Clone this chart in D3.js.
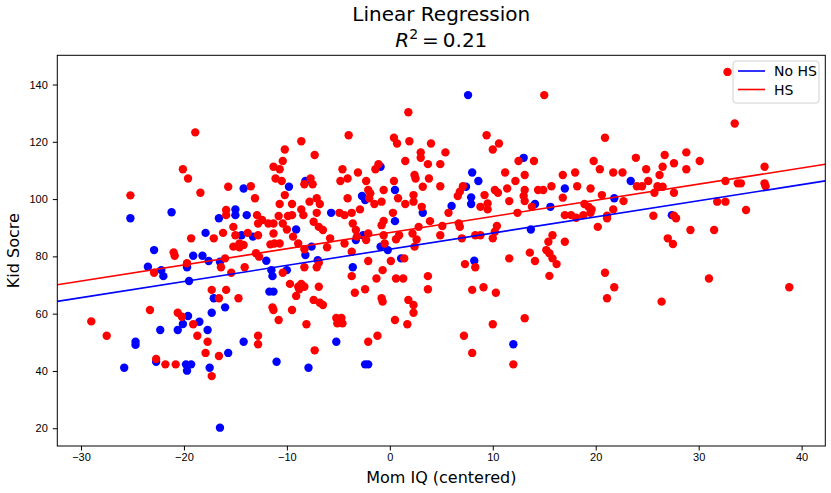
<!DOCTYPE html>
<html lang="en">
<head>
    <meta charset="UTF-8">
    <title>Linear Regression</title>
    <script src="https://d3js.org/d3.v7.min.js"></script>
    <style>
        body { margin: 0; background: #fff; }
        svg { display: block; font-family: "DejaVu Sans", sans-serif; }
        .axis path, .axis line { stroke: #000; stroke-width: 1px; }
        .axis text { font-size: 11px; fill: #000; }
    </style>
</head>
<body>
<svg width="831" height="493"></svg>
<script>
    // Mom IQ (centered) / kid score, mothers without high school
    const momIqNoHs = [-25.2, -21.2, -14.2, -16.6, -15.0, -15.0, -13.9, -17.9, -14.4, -22.9,
        -19.1, -18.2, -17.6, -16.5, -19.7, -23.5, -22.2, -22.0, -19.5, -17.1,
        -16.0, -17.3, -19.6, -22.3, -20.6, -20.1, -18.5, -17.7, -24.7, -24.7,
        -25.8, -22.7, -19.8, -19.3, -19.7, -17.5, -15.7, -14.2, -16.5, -9.8,
        -8.2, -0.9, 0.5, 7.6, 13.0, 8.0, 8.6, 23.4, 7.4, 17.0,
        7.9, 7.9, 6.0, 21.8, 14.1, 15.6, 13.7, 8.2, 27.4, 12.0,
        -11.0, -7.9, -5.2, -2.4, -2.1, -5.7, -2.7, -2.4, 0.5, 3.2,
        -13.3, -9.1, -7.6, -8.2, -7.0, -3.3, -2.6, -0.9, -0.2, -12.0,
        -11.5, -11.4, -10.0, -3.6, 1.1, -11.7, -11.3];
    const kidScoreNoHs = [93.3, 95.4, 103.7, 93.3, 96.4, 94.4, 94.4, 88.2, 87.4, 82.2,
        80.2, 80.2, 78.4, 78.1, 76.2, 76.4, 75.2, 73.1, 71.4, 65.4,
        62.2, 60.3, 59.2, 54.3, 54.3, 56.4, 57.2, 54.3, 50.2, 49.1,
        41.1, 43.2, 42.3, 42.3, 40.1, 41.1, 46.3, 50.2, 20.2, 104.3,
        106.3, 111.3, 103.2, 136.3, 114.4, 109.3, 106.3, 106.3, 104.3, 103.7,
        100.6, 98.3, 97.6, 100.3, 98.3, 97.3, 89.4, 78.5, 94.4, 49.3,
        43.2, 41.1, 50.2, 42.3, 42.3, 95.2, 101.1, 99.7, 92.3, 95.2,
        86.9, 89.4, 83.4, 80.5, 78.7, 85.7, 87.4, 83.4, 82.2, 78.5,
        75.2, 73.1, 75.2, 76.2, 79.3, 67.7, 67.7];

    // mothers with high school
    const momIqHs = [-29.0, -27.5, -25.2, -18.4, -15.9, -15.9, -15.2, -16.2, -15.0, -13.8,
        -19.3, -17.1, -14.6, -15.2, -14.6, -14.2, -21.0, -20.9, -16.0, -19.7,
        -16.4, -22.9, -14.1, -15.4, -17.3, -15.9, -16.6, -14.7, -23.3, -20.6,
        -20.2, -22.7, -21.8, -20.8, -19.1, -18.7, -17.7, -17.9, -17.3, -16.6,
        -18.9, -20.1, -19.6, -15.7, -13.5,
        1.8, -4.0, -8.6, -10.2, -7.3, -10.4, -11.3, -10.7, -11.1, -10.5,
        -7.7, -7.5, -8.3, -4.6, -4.8, -4.1, -3.1, -2.3, -1.1, -1.4,
        0.4, 0.4, 0.7, 1.9, 4.0, 1.5, 3.0, 3.0, 3.7, 4.9,
        5.4, 2.4, 2.5, 3.8, 3.2, 4.9, -2.1, -0.6,
        15.0, 9.4, 10.6, 10.0, 20.9, 12.5, 14.0, 23.9, 19.8, 20.4,
        21.7, 22.6, 11.2, 13.1, 12.2, 16.8, 18.0, 24.0, 7.1, 18.2,
        15.7, 19.5, 10.2, 11.4, 13.1, 14.4, 14.9,
        32.8, 33.5, 26.7, 28.8, 27.6, 30.1, 26.5, 28.8, 24.9, 26.2,
        25.1, 24.5, 26.0, 26.5, 36.4, 32.6, 33.8, 34.1, 36.4, 36.5,
        25.7, 27.6, 31.8, 32.6, 34.6, 25.6, 27.6, 27.8, 29.2, 31.5,
        27.0, 27.5, 31.0, 38.8, 26.4,
        6.8, 6.6, 5.7, 9.2, 10.5, 9.5, 8.8, 9.5, 11.6, 13.1,
        13.0, 20.6, 22.7, 13.8, 16.8, 18.9, 19.3, 19.6, 18.8, 19.5,
        17.0, 17.6, 18.1, 21.7, 21.1, 21.1, 20.2, 12.4, 6.7, 6.8,
        7.0, 8.3, 8.8, 10.0, 10.2, 10.4, 15.8, 15.4, 17.0, 15.2,
        15.5, 13.6, 14.1, 15.8, 16.2, 11.6, 7.3, 8.3, 15.5, 20.9,
        21.8, 21.1, 8.0, 9.1, 10.3, 13.1,
        10.0, 7.2, 8.0, 12.0,
        -12.8, -12.8, -10.8, -8.1, -5.2, -4.7, -5.1, -4.6, -7.3, -2.1,
        -1.2, 0.5, 1.7,
        -10.2, -13.1, -10.7, -9.5, -7.8, -7.1, -6.8, -8.6, -8.4, -7.1,
        -4.9, -4.4, -3.7, -4.1, -1.9, -2.0, -1.5, -0.8, -2.9, 0.8,
        1.5, 2.3, 2.3, 3.1, 0.3, -0.6, -0.8, 3.9, 5.1, 4.9,
        2.8, 2.2, 2.6, -12.9, -12.4, -11.8, -11.3, -12.8, -10.8, -9.9,
        -9.5, -10.4, -10.0, -12.8, -11.3, -11.2, -11.6, -10.7, -9.4, -8.9,
        -7.4, -6.9, -6.5, -8.3, -6.1, -5.8, -3.6, -3.3, -3.2, -4.4,
        -3.7, -2.1, -2.3, -0.6, -0.5, 0.6, 0.9, 2.4, -13.0, -12.7,
        -10.4, -8.3, -7.1, -6.9, -3.7, -2.1, -0.7, -1.3, 0.1, 1.4,
        3.7, 0.6, 1.3, -9.7, -8.9, -8.6, -8.8, -8.3, -6.9, -9.1,
        -2.4, -3.4, 3.7, -0.8, -0.7, -7.4, -6.8, -6.5, 1.8, 2.3,
        -11.4, -11.3, -9.5, 2.3];
    const kidScoreHs = [57.3, 52.3, 101.3, 102.2, 96.2, 94.4, 90.3, 88.2, 87.4, 88.2,
        86.3, 86.3, 84.5, 83.4, 83.2, 84.0, 81.4, 80.2, 79.3, 77.6,
        76.2, 74.3, 76.2, 74.3, 68.3, 68.3, 65.4, 65.4, 61.3, 60.3,
        58.9, 44.2, 42.3, 42.3, 56.3, 52.3, 50.2, 46.3, 38.2, 45.2,
        123.3, 110.4, 107.2, 104.3, 104.5,
        130.3, 122.3, 120.2, 117.3, 115.4, 113.3, 111.3, 110.4, 107.2, 106.3,
        107.2, 105.2, 105.2, 110.4, 106.3, 107.2, 109.3, 106.3, 112.2, 110.4,
        106.3, 121.4, 119.4, 120.2, 119.4, 113.3, 116.3, 114.4, 112.2, 112.2,
        116.3, 108.4, 107.2, 107.2, 104.3, 104.5, 103.2, 103.2,
        136.3, 122.3, 119.4, 117.3, 121.4, 113.3, 113.3, 114.4, 113.3, 110.4,
        109.3, 109.3, 109.3, 108.4, 106.3, 108.4, 109.3, 104.5, 104.5, 104.5,
        104.5, 103.7, 103.2, 103.7, 103.2, 103.2, 103.2,
        144.4, 126.4, 115.4, 116.3, 112.5, 113.3, 111.3, 110.4, 110.4, 108.4,
        106.3, 104.5, 104.5, 104.3, 111.3, 106.3, 105.5, 105.5, 105.5, 104.5,
        102.2, 102.2, 99.1, 99.1, 96.2, 94.2, 94.2, 93.3, 89.2, 89.2,
        86.3, 84.3, 72.3, 69.2, 64.2,
        102.6, 101.1, 95.2, 101.4, 102.2, 98.5, 97.3, 96.4, 99.3, 99.3,
        101.1, 101.4, 99.3, 97.3, 100.5, 98.3, 97.3, 96.4, 94.4, 95.2,
        94.4, 94.4, 93.5, 96.4, 94.2, 93.3, 90.3, 95.2, 91.5, 90.3,
        86.3, 87.4, 87.4, 86.3, 88.6, 90.6, 87.4, 85.1, 85.1, 82.2,
        81.1, 81.3, 78.4, 79.3, 77.3, 79.3, 77.3, 76.2, 73.2, 74.3,
        69.2, 65.4, 68.3, 69.2, 67.3, 58.4,
        56.3, 52.3, 46.3, 42.3,
        52.3, 49.3, 57.8, 56.3, 58.5, 58.5, 56.6, 56.6, 47.2, 50.2,
        52.3, 57.8, 56.3,
        101.4, 100.3, 98.3, 98.3, 99.1, 100.3, 98.3, 96.4, 94.4, 95.2,
        95.2, 94.4, 95.2, 100.3, 102.0, 100.3, 98.3, 99.1, 96.4, 100.3,
        98.3, 101.4, 99.1, 97.3, 95.2, 92.4, 90.9, 92.3, 90.6, 87.4,
        90.3, 88.0, 85.9, 94.4, 92.7, 91.5, 91.5, 91.5, 94.1, 94.1,
        94.4, 91.5, 89.4, 87.4, 88.0, 84.5, 84.2, 84.5, 86.9, 84.5,
        92.1, 90.3, 89.2, 82.5, 83.2, 86.3, 91.5, 89.2, 86.9, 84.5,
        81.6, 88.0, 85.7, 87.4, 84.5, 86.0, 87.4, 83.4, 81.1, 79.9,
        74.3, 76.2, 76.2, 77.8, 73.1, 78.4, 75.2, 72.3, 78.4, 79.3,
        73.1, 72.3, 72.3, 70.4, 69.4, 70.4, 68.5, 69.4, 69.4, 66.2,
        68.5, 67.3, 68.5, 65.4, 64.2, 64.8, 63.8, 63.0, 64.8, 63.0,
        62.2, 61.3, 61.3, 60.3];

    // fitted lines: kid score = intercept + slope * mom IQ
    const fitSlope = 0.564;
    const interceptNoHs = 82.5;
    const interceptHs = 88.3;

    const xTicks = [-30, -20, -10, 0, 10, 20, 30, 40];
    const yTicks = [20, 40, 60, 80, 100, 120, 140];

    const svg = d3.select("svg");
    const plotLeft = 57.3, plotRight = 825.3, plotTop = 55.3, plotBottom = 446;

    const x = d3.scaleLinear().domain([-32.3, 42.3]).range([plotLeft, plotRight]);
    const y = d3.scaleLinear().domain([13.8, 150.2]).range([plotBottom, plotTop]);

    const noHs = momIqNoHs.map((v, i) => [v, kidScoreNoHs[i]]);
    const hs = momIqHs.map((v, i) => [v, kidScoreHs[i]]);

    // scatter: no HS first, HS on top
    svg.append("g").selectAll("circle")
        .data(noHs).enter().append("circle")
        .attr("cx", d => x(d[0])).attr("cy", d => y(d[1]))
        .attr("r", 4.2).attr("fill", "blue");

    svg.append("g").selectAll("circle")
        .data(hs).enter().append("circle")
        .attr("cx", d => x(d[0])).attr("cy", d => y(d[1]))
        .attr("r", 4.2).attr("fill", "red");

    // regression lines across the full x range
    const fits = [
        {name: "No HS", color: "blue", b: interceptNoHs},
        {name: "HS", color: "red", b: interceptHs}
    ];
    const line = d3.line().x(d => x(d[0])).y(d => y(d[1]));
    svg.append("g").selectAll("path")
        .data(fits).enter().append("path")
        .attr("d", f => line(x.domain().map(v => [v, f.b + fitSlope * v])))
        .attr("stroke", f => f.color)
        .attr("stroke-width", 1.6)
        .attr("fill", "none");

    // axes
    svg.append("g")
        .attr("class", "axis")
        .attr("transform", `translate(0,${plotBottom})`)
        .call(d3.axisBottom(x).tickValues(xTicks).tickSize(4.5).tickPadding(3).tickSizeOuter(0));

    svg.append("g")
        .attr("class", "axis")
        .attr("transform", `translate(${plotLeft},0)`)
        .call(d3.axisLeft(y).tickValues(yTicks).tickSize(4.5).tickPadding(5).tickSizeOuter(0));

    svg.selectAll(".axis .domain").remove();

    // frame
    svg.append("rect")
        .attr("x", plotLeft).attr("y", plotTop)
        .attr("width", plotRight - plotLeft).attr("height", plotBottom - plotTop)
        .attr("fill", "none").attr("stroke", "#000").attr("stroke-width", 1);

    // labels
    svg.append("text")
        .attr("x", (plotLeft + plotRight) / 2).attr("y", 483)
        .attr("text-anchor", "middle")
        .style("font-size", "16px")
        .text("Mom IQ (centered)");

    svg.append("text")
        .attr("transform", `translate(19,${(plotTop + plotBottom) / 2}) rotate(-90)`)
        .attr("text-anchor", "middle")
        .style("font-size", "16px")
        .text("Kid Socre");

    // title, two lines
    svg.append("text")
        .attr("x", (plotLeft + plotRight) / 2).attr("y", 21)
        .attr("text-anchor", "middle")
        .style("font-size", "20px")
        .text("Linear Regression");

    const sub = svg.append("text")
        .attr("x", (plotLeft + plotRight) / 2).attr("y", 47)
        .attr("text-anchor", "middle")
        .style("font-size", "20px");
    sub.append("tspan").style("font-style", "italic").text("R");
    sub.append("tspan").attr("dy", -8).style("font-size", "14px").text("2");
    sub.append("tspan").attr("dy", 8).text("\u2009=\u20090.21");

    // legend
    const lg = svg.append("g").attr("transform", "translate(733,61)");
    lg.append("rect")
        .attr("width", 86).attr("height", 42).attr("rx", 3)
        .attr("fill", "#fff").attr("fill-opacity", 0.8)
        .attr("stroke", "#d0d0d0");
    fits.forEach((f, i) => {
        const yy = 10 + i * 18.5;
        lg.append("line")
            .attr("x1", 5).attr("x2", 32).attr("y1", yy).attr("y2", yy)
            .attr("stroke", f.color).attr("stroke-width", 1.6);
        lg.append("text")
            .attr("x", 41).attr("y", yy + 5)
            .style("font-size", "14px")
            .text(f.name);
    });
</script>
</body>
</html>
